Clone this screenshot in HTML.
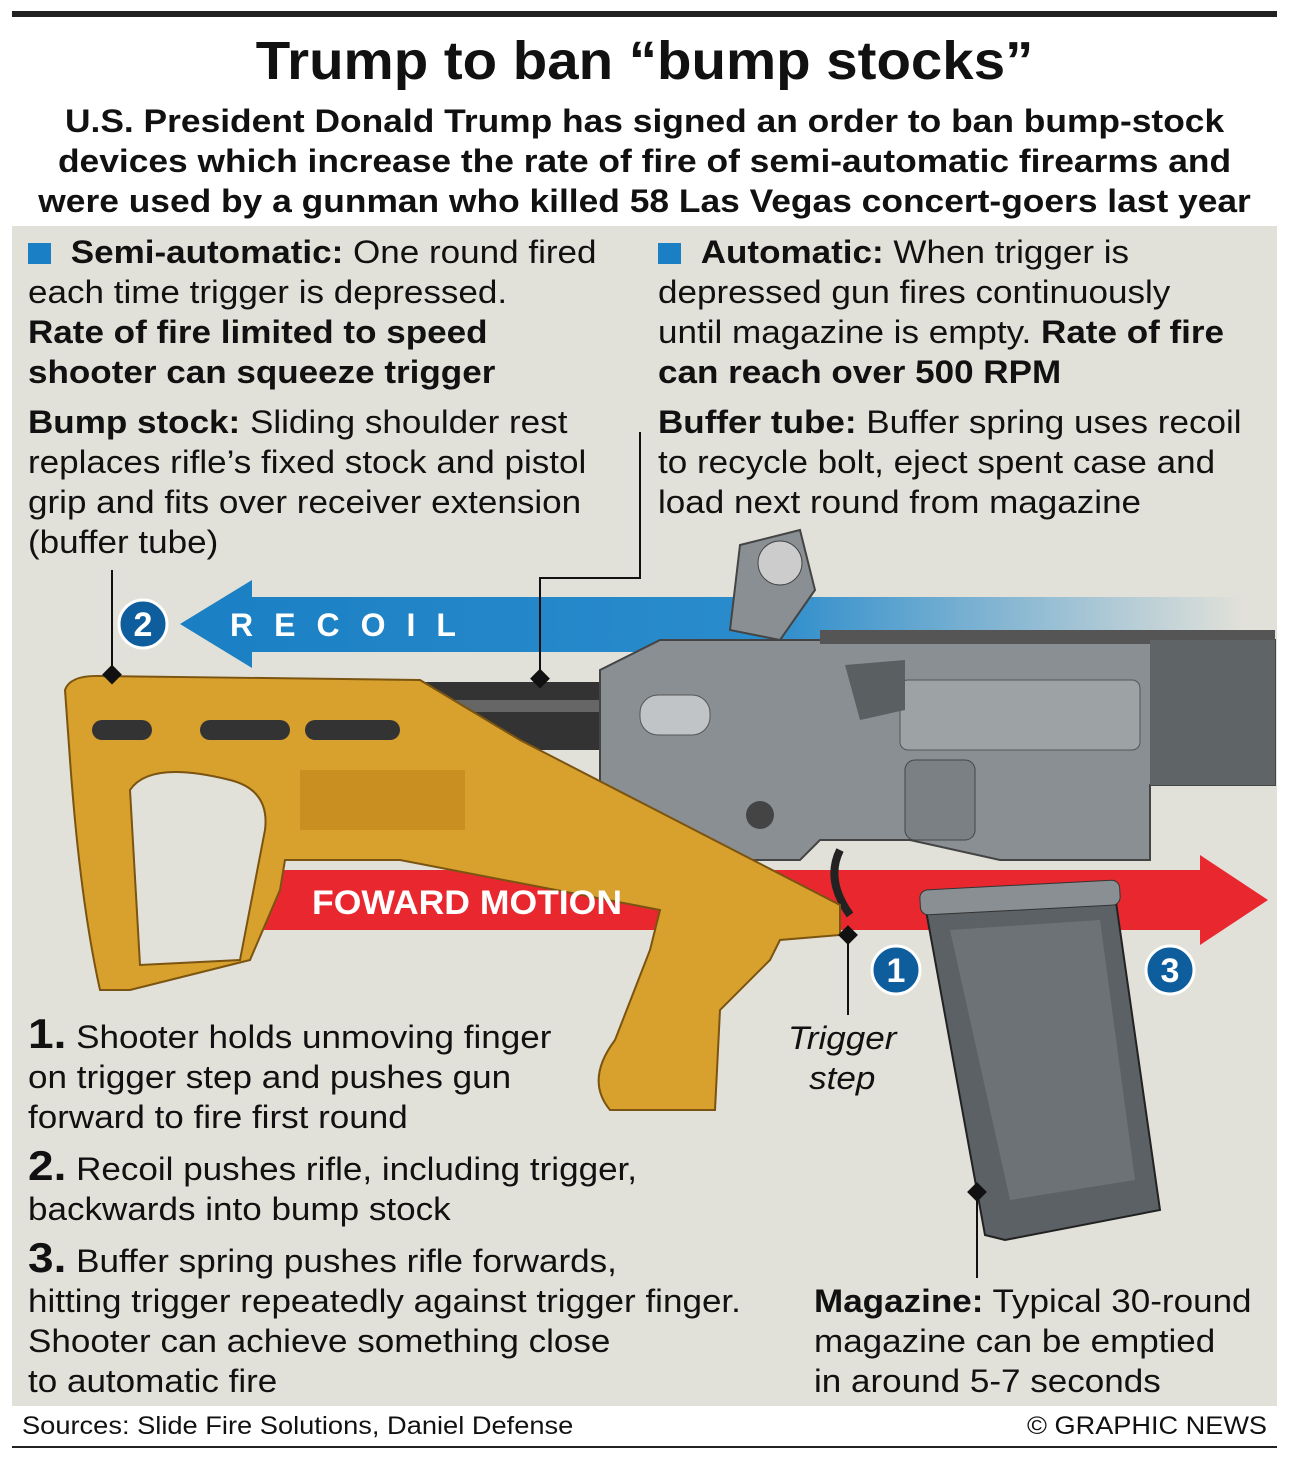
<!DOCTYPE html>
<html><head><meta charset="utf-8"><style>
body{margin:0;width:1289px;height:1462px;background:#fff;position:relative;font-family:"Liberation Sans",sans-serif;color:#111;overflow:hidden}
.t{position:absolute;white-space:nowrap;transform-origin:0 0;transform:scaleX(1.095)}
.b{font-weight:bold}
.sq{display:inline-block;width:21px;height:21px;background:#1a7fc4;margin-right:18px;vertical-align:-1px}
</style></head><body>
<div style="position:absolute;left:12px;top:11px;width:1265px;height:6px;background:#222"></div>
<div class="t b" style="left:0;width:1289px;text-align:center;top:30px;font-size:54px;transform:scaleX(1.045);transform-origin:644px 0">Trump to ban “bump stocks”</div>
<div class="t b" style="left:0;width:1289px;text-align:center;top:101px;font-size:32px;line-height:40px;transform:scaleX(1.105);transform-origin:644px 0">U.S. President Donald Trump has signed an order to ban bump-stock<br>devices which increase the rate of fire of semi-automatic firearms and<br>were used by a gunman who killed 58 Las Vegas concert-goers last year</div>
<div style="position:absolute;left:12px;top:226px;width:1265px;height:1180px;background:#e2e1d9"></div>

<svg style="position:absolute;left:0;top:0" width="1289" height="1462">
<defs><linearGradient id="bl" x1="0" x2="1"><stop offset="0" stop-color="#1a7fc4"/><stop offset="0.55" stop-color="#2a8ccc"/><stop offset="1" stop-color="#e2e1d9"/></linearGradient></defs>
<polygon points="180,624 252,580 252,597 1245,597 1245,652 252,652 252,668" fill="url(#bl)"/>
<polygon points="220,870 1200,870 1200,855 1268,900 1200,945 1200,930 220,930" fill="#e8282e"/>
<rect x="420" y="682" width="200" height="68" fill="#333"/>
<rect x="420" y="700" width="200" height="12" fill="#666"/>
<polygon points="600,670 660,640 1275,640 1275,785 1150,785 1150,860 1000,860 910,840 820,840 800,860 700,860 600,790" fill="#8a8f93" stroke="#444" stroke-width="2"/>
<rect x="820" y="630" width="455" height="14" fill="#555"/>
<rect x="1150" y="640" width="125" height="145" fill="#5f6467"/>
<rect x="900" y="680" width="240" height="70" rx="8" fill="#9da2a5" stroke="#555"/>
<polygon points="845,665 905,660 905,710 860,720" fill="#5a5f62"/>
<rect x="640" y="695" width="70" height="40" rx="18" fill="#c0c4c6" stroke="#555"/>
<polygon points="740,545 800,530 815,590 780,640 730,630" fill="#8a8f93" stroke="#444" stroke-width="2"/>
<circle cx="780" cy="563" r="22" fill="#ccc" stroke="#444"/>
<rect x="905" y="760" width="70" height="80" rx="10" fill="#7b8084" stroke="#444"/>
<circle cx="760" cy="815" r="14" fill="#444"/>
<polygon points="925,905 1115,895 1160,1210 1005,1240 985,1235" fill="#5b6165" stroke="#222" stroke-width="2"/>
<rect x="920" y="885" width="200" height="25" rx="8" fill="#8a8f93" stroke="#333" transform="rotate(-3 1020 897)"/>
<polygon points="950,930 1100,920 1135,1180 1010,1200" fill="#6c7276"/>
<path d="M840,850 Q825,880 850,915" stroke="#222" stroke-width="8" fill="none"/>
<path d="M65,690 Q70,675 100,676 L420,680 L520,740 L840,905 L840,935 L780,940 L770,960 L720,1010 L715,1110 L610,1110 Q585,1080 615,1040 L650,950 L660,910 L400,860 L285,860 L280,890 L250,960 L130,990 L100,990 Q80,900 70,760 Z" fill="#d8a02c" stroke="#7a5410" stroke-width="2"/>
<path d="M130,790 Q150,760 230,780 Q270,790 265,830 L240,960 L140,965 Z" fill="#e2e1d9" stroke="#7a5410" stroke-width="2"/>
<rect x="92" y="720" width="60" height="20" rx="10" fill="#333"/>
<rect x="200" y="720" width="90" height="20" rx="10" fill="#333"/>
<rect x="305" y="720" width="95" height="20" rx="10" fill="#333"/>
<rect x="300" y="770" width="165" height="60" fill="#c98f20"/>
<g stroke="#111" stroke-width="2" fill="none">
<line x1="112" y1="570" x2="112" y2="676"/>
<polyline points="640,432 640,578 540,578 540,680"/>
<line x1="848" y1="935" x2="848" y2="1015"/>
<line x1="977" y1="1192" x2="977" y2="1278"/>
</g>
<g fill="#111">
<rect x="104" y="668" width="14" height="14" transform="rotate(45 112 676)"/>
<rect x="532" y="672" width="14" height="14" transform="rotate(45 540 680)"/>
<rect x="841" y="928" width="14" height="14" transform="rotate(45 848 935)"/>
<rect x="970" y="1185" width="14" height="14" transform="rotate(45 977 1192)"/>
</g>
<g font-family="Liberation Sans" font-weight="bold" font-size="34" fill="#fff" text-anchor="middle">
<circle cx="143" cy="624" r="24" fill="#0e5e9e" stroke="#fff" stroke-width="3"/><text x="143" y="636">2</text>
<circle cx="896" cy="970" r="24" fill="#0e5e9e" stroke="#fff" stroke-width="3"/><text x="896" y="982">1</text>
<circle cx="1170" cy="970" r="24" fill="#0e5e9e" stroke="#fff" stroke-width="3"/><text x="1170" y="982">3</text>
</g>
<text x="230" y="636" font-family="Liberation Sans" font-weight="bold" font-size="32" fill="#fff" letter-spacing="21">RECOIL</text>
<text x="312" y="914" font-family="Liberation Sans" font-weight="bold" font-size="34" fill="#fff" textLength="310" lengthAdjust="spacingAndGlyphs">FOWARD MOTION</text>
</svg>

<div class="t" style="left:28px;top:232px;font-size:32px;line-height:40px"><span class="sq"></span><b>Semi-automatic:</b> One round fired<br>each time trigger is depressed.<br><b>Rate of fire limited to speed<br>shooter can squeeze trigger</b></div>
<div class="t" style="left:658px;top:232px;font-size:32px;line-height:40px"><span class="sq"></span><b>Automatic:</b> When trigger is<br>depressed gun fires continuously<br>until magazine is empty. <b>Rate of fire<br>can reach over 500 RPM</b></div>
<div class="t" style="left:28px;top:402px;font-size:32px;line-height:40px"><b>Bump stock:</b> Sliding shoulder rest<br>replaces rifle’s fixed stock and pistol<br>grip and fits over receiver extension<br>(buffer tube)</div>
<div class="t" style="left:658px;top:402px;font-size:32px;line-height:40px"><b>Buffer tube:</b> Buffer spring uses recoil<br>to recycle bolt, eject spent case and<br>load next round from magazine</div>
<div class="t" style="left:28px;top:1014px;font-size:32px;line-height:40px"><b style="font-size:42px">1.</b> Shooter holds unmoving finger<br>on trigger step and pushes gun<br>forward to fire first round</div>
<div class="t" style="left:28px;top:1146px;font-size:32px;line-height:40px"><b style="font-size:42px">2.</b> Recoil pushes rifle, including trigger,<br>backwards into bump stock</div>
<div class="t" style="left:28px;top:1238px;font-size:32px;line-height:40px"><b style="font-size:42px">3.</b> Buffer spring pushes rifle forwards,<br>hitting trigger repeatedly against trigger finger.<br>Shooter can achieve something close<br>to automatic fire</div>
<div class="t" style="left:788px;top:1018px;font-size:32px;line-height:40px;font-style:italic;text-align:center">Trigger<br>step</div>
<div class="t" style="left:814px;top:1281px;font-size:32px;line-height:40px"><b>Magazine:</b> Typical 30-round<br>magazine can be emptied<br>in around 5-7 seconds</div>
<div class="t" style="left:22px;top:1412px;font-size:25px;transform:scaleX(1.09)">Sources: Slide Fire Solutions, Daniel Defense</div>
<div class="t" style="left:1027px;top:1412px;font-size:25px;transform:scaleX(1.085)">© GRAPHIC NEWS</div>
<div style="position:absolute;left:12px;top:1446px;width:1265px;height:2px;background:#222"></div>
</body></html>
